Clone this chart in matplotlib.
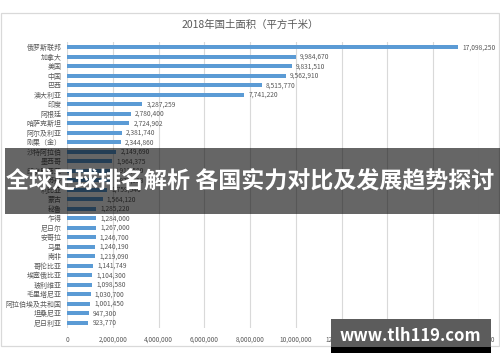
import matplotlib
matplotlib.use("Agg")
import matplotlib.pyplot as plt
from matplotlib.patches import Rectangle
from matplotlib.ticker import FuncFormatter

plt.rcParams['font.family'] = ['Noto Sans CJK SC', 'DejaVu Sans']

# 2018 surface area (sq km), top to bottom as in the chart
countries = ['俄罗斯联邦', '加拿大', '美国', '中国', '巴西', '澳大利亚', '印度', '阿根廷',
             '哈萨克斯坦', '阿尔及利亚', '刚果（金）', '沙特阿拉伯', '墨西哥', '印度尼西亚',
             '苏丹', '利比亚', '蒙古', '秘鲁', '乍得', '尼日尔', '安哥拉', '马里', '南非',
             '哥伦比亚', '埃塞俄比亚', '玻利维亚', '毛里塔尼亚', '阿拉伯埃及共和国',
             '坦桑尼亚', '尼日利亚']
areas = [17098250, 9984670, 9831510, 9562910, 8515770, 7741220, 3287259, 2780400,
         2724902, 2381740, 2344860, 2149690, 1964375, 1913580,
         1879358, 1759540, 1564120, 1285220, 1284000, 1267000, 1246700, 1240190, 1219090,
         1141749, 1104300, 1098580, 1030700, 1001450,
         947300, 923770]
x_ticks = list(range(0, 18000001, 2000000))

title = '2018年国土面积（平方千米）'
banner = '全球足球排名解析 各国实力对比及发展趋势探讨'
watermark = 'www.tlh119.com'

grey = '#595959'
blue = '#5B9BD5'

fig = plt.figure(figsize=(5, 3.62), dpi=100)
ax = fig.add_axes([0.134, 0.0953, 0.824, 0.7873])

pos = list(range(len(countries)))
ax.barh(pos, areas, height=0.42, color=blue, zorder=2)
for p, v in zip(pos, areas):
    ax.annotate(f'{v:,}', (v, p), xytext=(3, 0), textcoords='offset points',
                va='center', ha='left', fontsize=4.8, color=grey)

ax.set_yticks(pos)
ax.set_yticklabels(countries, fontsize=5, color=grey)
ax.set_ylim(len(countries) - 0.5, -0.5)
ax.set_xlim(0, 18000000)
ax.set_xticks(x_ticks)
ax.xaxis.set_major_formatter(FuncFormatter(lambda v, _: f'{int(v):,}'))
ax.tick_params(axis='x', labelsize=4.6, labelcolor=grey, length=0, pad=6)
ax.tick_params(axis='y', length=0, pad=4)
ax.grid(axis='x', color='#D9D9D9', linewidth=0.8, zorder=0)
for s in ax.spines.values():
    s.set_visible(False)

# chart frame and title
fig.patches.append(Rectangle((0.002, 1 - 346 / 362), 0.996, 333 / 362, transform=fig.transFigure,
                             facecolor='none', edgecolor='#D9D9D9', linewidth=0.9, zorder=0))
fig.text(0.5, 1 - 25 / 362, title, ha='center', va='center', fontsize=7.5, color=grey)

# dark banner over the middle
fig.patches.append(Rectangle((0.01, 1 - 214 / 362), 0.99, 66 / 362, transform=fig.transFigure,
                             facecolor='black', alpha=0.6, edgecolor='none', zorder=5))
fig.text(0.5, 0.5, banner, ha='center', va='center', fontsize=16.6, color='white',
         fontweight='bold', zorder=6)

# watermark box
fig.patches.append(Rectangle((0.662, 1 - 347 / 362), 0.32, 28 / 362, transform=fig.transFigure,
                             facecolor='#5C5C5C', edgecolor='none', zorder=5))
fig.patches.append(Rectangle((0.662, 1 - 353 / 362), 0.32, 6 / 362, transform=fig.transFigure,
                             facecolor='black', edgecolor='none', zorder=5))
fig.text(0.82, 1 - 336 / 362, watermark, ha='center', va='center', fontsize=12, color='white',
         fontweight='bold', zorder=6)

fig.savefig('out.png', dpi=100)
